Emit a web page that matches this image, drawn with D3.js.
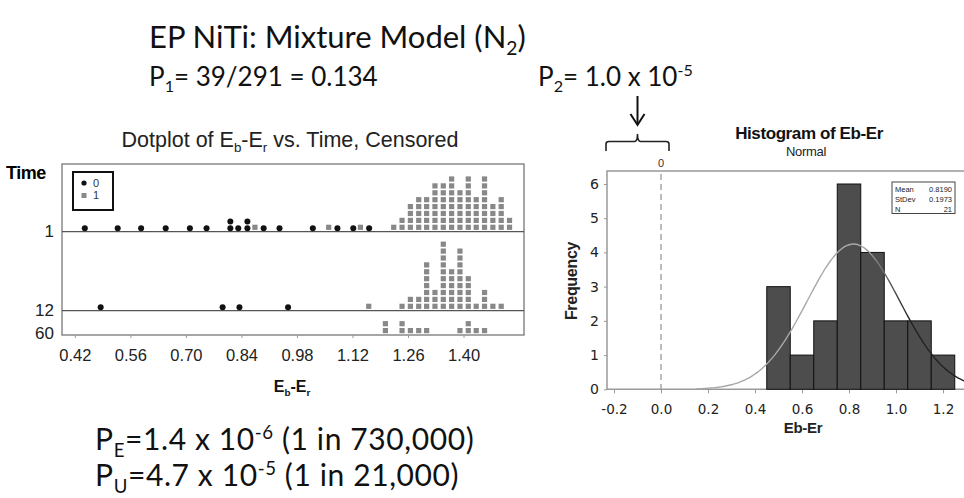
<!DOCTYPE html>
<html>
<head>
<meta charset="utf-8">
<script src="https://cdn.jsdelivr.net/npm/d3@7"></script>
<style>
  body { margin: 0; background: #fff; }
</style>
</head>
<body>
<svg id="chart" width="964" height="498"></svg>
<script>
// ---- dotplot data (Eb-Er by time, censored) ----
const timeRows = ['1', '12', '60'];
const dotTicks = [0.42, 0.56, 0.70, 0.84, 0.98, 1.12, 1.26, 1.40];

// status 0: one entry per dot, a repeated value stacks
const failed1 = [0.445, 0.528, 0.587, 0.649, 0.710, 0.752, 0.812, 0.812, 0.832,
  0.855, 0.855, 0.896, 0.936, 1.020, 1.082, 1.122, 1.162];
const failed12 = [0.485, 0.7925, 0.835, 0.9575];
const failed60 = [];

// status 1: column position and count
const cens1X = [0.874, 1.060, 1.140, 1.224, 1.245, 1.266, 1.287, 1.307, 1.328, 1.349,
  1.370, 1.391, 1.412, 1.432, 1.453, 1.474, 1.495, 1.516];
const cens1N = [1, 1, 1, 1, 2, 4, 5, 5, 7, 7, 8, 6, 8, 5, 8, 4, 5, 2];
const cens12X = [1.161, 1.245, 1.266, 1.287, 1.307, 1.328, 1.349, 1.370, 1.391, 1.412,
  1.432, 1.453, 1.474, 1.495];
const cens12N = [1, 1, 2, 2, 7, 3, 10, 6, 9, 5, 1, 3, 1, 1];
const cens60X = [1.203, 1.245, 1.266, 1.287, 1.307, 1.391, 1.412, 1.432, 1.453];
const cens60N = [2, 2, 1, 1, 1, 1, 2, 1, 1];

// ---- histogram data ----
const binEdges = [0.45, 0.55, 0.65, 0.75, 0.85, 0.95, 1.05, 1.15, 1.25];
const binCounts = [3, 1, 2, 6, 4, 2, 2, 1];
const histXTicks = [-0.2, 0.0, 0.2, 0.4, 0.6, 0.8, 1.0, 1.2];
const histYTicks = [0, 1, 2, 3, 4, 5, 6];
const statLabels = ['Mean', 'StDev', 'N'];
const statValues = ['0.8190', '0.1973', '21'];
const fitMean = 0.8190, fitSd = 0.1973, fitN = 21;

const svg = d3.select('#chart');
const arial = 'Liberation Sans, Arial, sans-serif';
const lato = 'Lato, Carlito, sans-serif';

// text with sub/superscript parts: [string, 'sub'|'sup'|null]
function rich(parent, x, y, parts, size, opts = {}) {
  const t = parent.append('text')
    .attr('x', x).attr('y', y)
    .attr('font-family', opts.family || lato)
    .attr('font-size', size)
    .attr('font-weight', opts.weight || 'normal')
    .attr('text-anchor', opts.anchor || 'start')
    .attr('letter-spacing', opts.spacing || 0)
    .attr('fill', opts.fill || '#111');
  let shift = 0;
  parts.forEach(([s, kind]) => {
    const target = kind === 'sub' ? size * 0.22 : kind === 'sup' ? -size * 0.38 : 0;
    t.append('tspan')
      .attr('dy', target - shift)
      .attr('font-size', kind ? size * 0.62 : size)
      .text(s);
    shift = target;
  });
  return t;
}

// ---- top and bottom annotations ----
rich(svg, 149, 48, [['EP NiTi: Mixture Model (N', null], ['2', 'sub'], [')', null]], 31);
rich(svg, 149, 86, [['P', null], ['1', 'sub'], ['= 39/291 = 0.134', null]], 26);
rich(svg, 538, 86, [['P', null], ['2', 'sub'], ['= 1.0 x 10', null], ['-5', 'sup']], 26);
rich(svg, 95, 450, [['P', null], ['E', 'sub'], ['=1.4 x 10', null], ['-6', 'sup'], [' (1 in 730,000)', null]], 30, { spacing: 0.6 });
rich(svg, 95, 486, [['P', null], ['U', 'sub'], ['=4.7 x 10', null], ['-5', 'sup'], [' (1 in 21,000)', null]], 30, { spacing: 0.6 });

// ---- dotplot ----
const dp = svg.append('g');
const x = d3.scaleLinear().domain([0.3875, 1.5525]).range([62, 524]);
const rowBase = d3.scaleOrdinal().domain(timeRows).range([231.7, 310.7, 335]);
const stack = d3.scaleLinear().domain([0, 1]).range([0, -6.9]);

rich(dp, 290, 147, [['Dotplot of E', null], ['b', 'sub'], ['-E', null], ['r', 'sub'], [' vs. Time, Censored', null]],
  21.5, { family: arial, anchor: 'middle', fill: '#222' });

dp.append('rect').attr('x', 62).attr('y', 164).attr('width', 462).attr('height', 171)
  .attr('fill', 'none').attr('stroke', '#777').attr('stroke-width', 1.3);
dp.selectAll('line.row').data(timeRows.slice(0, 2)).join('line')
  .attr('class', 'row')
  .attr('x1', 62).attr('x2', 524)
  .attr('y1', d => rowBase(d)).attr('y2', d => rowBase(d))
  .attr('stroke', '#555').attr('stroke-width', 1.3);

dp.append('text').attr('x', 6).attr('y', 179).attr('font-family', arial)
  .attr('font-size', 18).attr('font-weight', 'bold').attr('letter-spacing', -0.5).text('Time');
dp.selectAll('text.rowlab').data(timeRows).join('text')
  .attr('class', 'rowlab')
  .attr('x', 54).attr('y', d => rowBase(d) + (d === '60' ? 4 : 5.5))
  .attr('text-anchor', 'end').attr('font-family', arial).attr('font-size', 17)
  .attr('fill', '#222').text(d => d);

const xAxis = dp.append('g').attr('transform', 'translate(0,335)')
  .call(d3.axisBottom(x).tickValues(dotTicks).tickFormat(d3.format('.2f')).tickSize(3));
xAxis.select('.domain').remove();
xAxis.selectAll('line').attr('stroke', '#999');
xAxis.selectAll('text').attr('y', 14).attr('font-family', arial).attr('font-size', 16.5).attr('fill', '#222');

rich(dp, 292, 392, [['E', null], ['b', 'sub'], ['-E', null], ['r', 'sub']], 16,
  { family: arial, anchor: 'middle', weight: 'bold' });

// censored squares
const censRows = [[cens1X, cens1N], [cens12X, cens12N], [cens60X, cens60N]];
const squares = [];
censRows.forEach(([xs, ns], i) => {
  xs.forEach((v, j) => d3.range(ns[j]).forEach(k => squares.push({ row: timeRows[i], v, k })));
});
dp.selectAll('rect.cens').data(squares).join('rect')
  .attr('class', 'cens')
  .attr('x', d => x(d.v) - 2.6)
  .attr('y', d => rowBase(d.row) - 4.4 + stack(d.k) - 2.6)
  .attr('width', 5.2).attr('height', 5.2)
  .attr('fill', '#888');

// failed dots
const dots = [];
[failed1, failed12, failed60].forEach((vals, i) => {
  const seen = new Map();
  vals.forEach(v => {
    const k = seen.get(v) || 0;
    seen.set(v, k + 1);
    dots.push({ row: timeRows[i], v, k });
  });
});
dp.selectAll('circle.fail').data(dots).join('circle')
  .attr('class', 'fail')
  .attr('cx', d => x(d.v))
  .attr('cy', d => rowBase(d.row) - 3.4 + stack(d.k))
  .attr('r', 3)
  .attr('fill', '#111');

// legend
const lg = dp.append('g');
lg.append('rect').attr('x', 73).attr('y', 172).attr('width', 40).attr('height', 38)
  .attr('fill', '#fff').attr('stroke', '#111').attr('stroke-width', 2);
lg.append('circle').attr('cx', 84).attr('cy', 183).attr('r', 2.6).attr('fill', '#111');
lg.append('rect').attr('x', 81.5).attr('y', 193).attr('width', 5).attr('height', 5).attr('fill', '#888');
lg.selectAll('text').data(['0', '1']).join('text')
  .attr('x', 93).attr('y', (d, i) => 187 + i * 12)
  .attr('font-family', arial).attr('font-size', 11).attr('fill', '#333').text(d => d);

// ---- histogram ----
const hg = svg.append('g');
const xH = d3.scaleLinear().domain([-0.2, 1.2]).range([614, 943]);
const yH = d3.scaleLinear().domain([0, 6]).range([389.3, 184]);
const dejavu = 'DejaVu Sans, Verdana, sans-serif';
const hyphenFmt = f => d => d3.format(f)(d).replace('\u2212', '-');

hg.append('text').attr('x', 809).attr('y', 139).attr('text-anchor', 'middle')
  .attr('font-family', arial).attr('font-size', 17).attr('font-weight', 'bold')
  .attr('letter-spacing', -0.4).attr('fill', '#111').text('Histogram of Eb-Er');
hg.append('text').attr('x', 806).attr('y', 156).attr('text-anchor', 'middle')
  .attr('font-family', arial).attr('font-size', 13).attr('letter-spacing', -0.3)
  .attr('fill', '#222').text('Normal');

// frame
hg.append('path')
  .attr('d', `M964,171H607V389.3H964`)
  .attr('fill', 'none').attr('stroke', '#999').attr('stroke-width', 1.5);

const hx = hg.append('g').attr('transform', 'translate(0,389.3)')
  .call(d3.axisBottom(xH).tickValues(histXTicks).tickFormat(hyphenFmt('.1f')).tickSize(4));
hx.select('.domain').remove();
hx.selectAll('line').attr('stroke', '#999');
hx.selectAll('text').attr('y', 15).attr('font-family', dejavu).attr('font-size', 13.5).attr('fill', '#222');

const hy = hg.append('g').attr('transform', 'translate(607,0)')
  .call(d3.axisLeft(yH).tickValues(histYTicks).tickFormat(d3.format('d')).tickSize(3));
hy.select('.domain').remove();
hy.selectAll('line').attr('stroke', '#999');
hy.selectAll('text').attr('x', -8).attr('font-family', dejavu).attr('font-size', 14).attr('fill', '#222');

hg.append('text')
  .attr('transform', 'translate(577,281) rotate(-90)')
  .attr('text-anchor', 'middle').attr('font-family', arial).attr('font-size', 16)
  .attr('font-weight', 'bold').attr('letter-spacing', -0.3).attr('fill', '#222').text('Frequency');
hg.append('text').attr('x', 803).attr('y', 433).attr('text-anchor', 'middle')
  .attr('font-family', arial).attr('font-size', 15).attr('font-weight', 'bold')
  .attr('letter-spacing', -0.3).attr('fill', '#222').text('Eb-Er');

// reference line at 0
hg.append('line').attr('x1', xH(0)).attr('x2', xH(0)).attr('y1', 174).attr('y2', 389)
  .attr('stroke', '#999').attr('stroke-width', 1.3).attr('stroke-dasharray', '6,4');
hg.append('text').attr('x', xH(0)).attr('y', 167).attr('text-anchor', 'middle')
  .attr('font-family', arial).attr('font-size', 11).attr('fill', '#333').text('0');

// bars
const bins = binCounts.map((c, i) => ({ x0: binEdges[i], x1: binEdges[i + 1], c }));
hg.selectAll('rect.bar').data(bins).join('rect')
  .attr('class', 'bar')
  .attr('x', d => xH(d.x0)).attr('width', d => xH(d.x1) - xH(d.x0))
  .attr('y', d => yH(d.c)).attr('height', d => yH(0) - yH(d.c))
  .attr('fill', '#4d4d4d').attr('stroke', '#111').attr('stroke-width', 1);

// fitted normal curve
const bw = binEdges[1] - binEdges[0];
const fit = v => fitN * bw * Math.exp(-0.5 * ((v - fitMean) / fitSd) ** 2) / (fitSd * Math.sqrt(2 * Math.PI));
const grad = svg.append('defs').append('linearGradient').attr('id', 'fitGrad')
  .attr('gradientUnits', 'userSpaceOnUse')
  .attr('x1', xH(0.86)).attr('x2', xH(1.06)).attr('y1', 0).attr('y2', 0);
grad.append('stop').attr('offset', 0).attr('stop-color', '#a8a8a8');
grad.append('stop').attr('offset', 1).attr('stop-color', '#222');
hg.append('path')
  .datum(d3.range(0.15, 1.33, 0.01))
  .attr('d', d3.line().x(d => xH(d)).y(d => yH(fit(d))).curve(d3.curveBasis))
  .attr('fill', 'none').attr('stroke', 'url(#fitGrad)').attr('stroke-width', 1.4);

// stats box
const sb = hg.append('g');
sb.append('rect').attr('x', 892).attr('y', 182).attr('width', 63).attr('height', 31.5)
  .attr('fill', '#fff').attr('stroke', '#444').attr('stroke-width', 1);
sb.selectAll('text.sl').data(statLabels).join('text').attr('class', 'sl')
  .attr('x', 895).attr('y', (d, i) => 192 + i * 10)
  .attr('font-family', arial).attr('font-size', 7.5).attr('fill', '#222').text(d => d);
sb.selectAll('text.sv').data(statValues).join('text').attr('class', 'sv')
  .attr('x', 952).attr('y', (d, i) => 192 + i * 10).attr('text-anchor', 'end')
  .attr('font-family', arial).attr('font-size', 7.5).attr('fill', '#222').text(d => d);

// bracket and arrow over the 0 region
const ax = xH(0) - 23.5;
hg.append('path')
  .attr('d', `M606,151V144Q606,141.5 609,141.5H${ax - 3}Q${ax},141.5 ${ax},134Q${ax},141.5 ${ax + 3},141.5H666Q669,141.5 669,144V151`)
  .attr('fill', 'none').attr('stroke', '#222').attr('stroke-width', 1.6);
hg.append('path').attr('d', `M${ax},96V124`).attr('stroke', '#111').attr('stroke-width', 2);
hg.append('path').attr('d', `M${ax - 7},114L${ax},125L${ax + 7},114`)
  .attr('fill', 'none').attr('stroke', '#111').attr('stroke-width', 2);
</script>
</body>
</html>
